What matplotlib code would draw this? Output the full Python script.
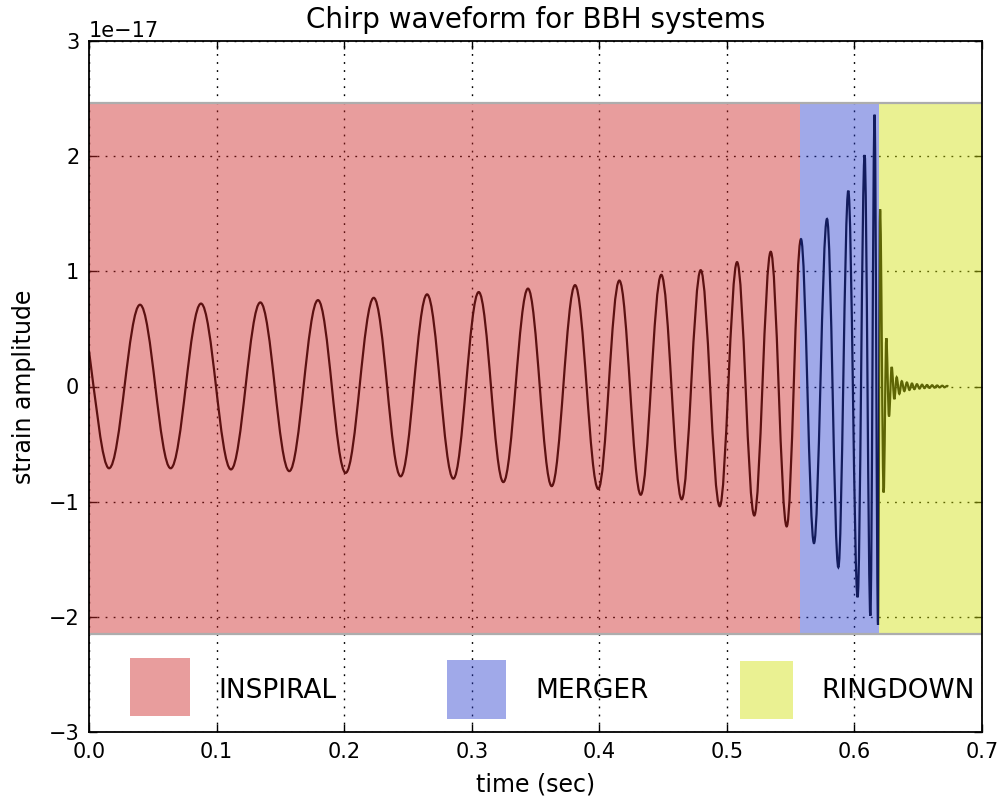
import matplotlib
matplotlib.use("Agg")
import matplotlib.pyplot as plt
from matplotlib.path import Path
from matplotlib.patches import PathPatch, Rectangle

plt.rcParams["font.family"] = ["DejaVu Sans"]

# Turning points of the strain waveform (time in s, strain in units of 1e-17)
wave_t = [0.0000, 0.0157, 0.0400, 0.0640, 0.0878, 0.1113, 0.1343, 0.1570,
          0.1795, 0.2012, 0.2232, 0.2443, 0.2650, 0.2856, 0.3055, 0.3248,
          0.3441, 0.3627, 0.3810, 0.3992, 0.4157, 0.4325, 0.4486, 0.4646,
          0.4795, 0.4944, 0.5080, 0.5215, 0.5344, 0.5469,
          0.5581, 0.5683, 0.5785, 0.5874, 0.5952, 0.6025, 0.6080, 0.6125,
          0.6158, 0.6185,
          0.6201, 0.6229, 0.6250, 0.6271, 0.6292, 0.6313, 0.6331, 0.6352,
          0.6371, 0.6391, 0.6411, 0.6431, 0.6451, 0.6470, 0.6490, 0.6510,
          0.6530, 0.6549, 0.6569, 0.6589, 0.6609, 0.6628, 0.6648, 0.6668,
          0.6688, 0.6707, 0.6727, 0.6736]
wave_h = [0.31, -0.71, 0.71, -0.71, 0.72, -0.72, 0.73, -0.735,
          0.75, -0.75, 0.77, -0.78, 0.80, -0.80, 0.82, -0.83,
          0.85, -0.865, 0.88, -0.89, 0.92, -0.94, 0.97, -0.98,
          1.01, -1.04, 1.08, -1.12, 1.17, -1.215,
          1.28, -1.36, 1.455, -1.57, 1.70, -1.83, 2.01, -1.99,
          2.36, -2.07,
          1.54, -0.92, 0.42, -0.26, 0.17, -0.11, 0.08, -0.064,
          0.046, -0.04, 0.035, -0.03, 0.026, -0.023, 0.02, -0.018,
          0.016, -0.014, 0.013, -0.012, 0.011, -0.01, 0.009, -0.008,
          0.007, -0.006, 0.005, 0.0]
start_slope = -82.0   # strain slope at t = 0 (1e-17 per s)
scale = 1e-17

# Phase boundaries (s) and the strain band they shade
phase_names = ["INSPIRAL", "MERGER", "RINGDOWN"]
phase_edges = [0.0, 0.5573, 0.6189, 0.7]
phase_colors = ["#ce2727", "#2c40d0", "#d2e20d"]
band_lo, band_hi = -2.15, 2.46

# Legend swatches: (left, bottom, width, height) in data units, label x
swatch_boxes = [(0.0321, -2.865, 0.0471, 0.504),
                (0.2806, -2.891, 0.0463, 0.513),
                (0.5103, -2.891, 0.0416, 0.504)]
label_x = [0.1011, 0.3496, 0.5738]
label_y = -2.64

x_ticks = [0.0, 0.1, 0.2, 0.3, 0.4, 0.5, 0.6, 0.7]
y_ticks = [-3, -2, -1, 0, 1, 2, 3]

fig = plt.figure(figsize=(10.02, 8.01), dpi=100)
ax = fig.add_axes([89 / 1002, 1 - 732 / 801, 893 / 1002, 691 / 801])

# Smooth waveform: cubic segments between successive turning points
K = 0.3634
verts = [(wave_t[0], wave_h[0] * scale)]
codes = [Path.MOVETO]
for i in range(1, len(wave_t)):
    t0, h0 = wave_t[i - 1], wave_h[i - 1] * scale
    t1, h1 = wave_t[i], wave_h[i] * scale
    d = t1 - t0
    if i == 1:
        c1 = (t0 + d / 3, h0 + start_slope * scale * d / 3)
        c2 = (t1 - d / 3, h1)
    else:
        c1 = (t0 + K * d, h0)
        c2 = (t1 - K * d, h1)
    verts += [c1, c2, (t1, h1)]
    codes += [Path.CURVE4] * 3
ax.add_patch(PathPatch(Path(verts, codes), facecolor="none",
                       edgecolor="black", lw=1.6, zorder=1))

# Shaded phases drawn over the curve
for x0, x1, c in zip(phase_edges[:-1], phase_edges[1:], phase_colors):
    ax.add_patch(Rectangle((x0, band_lo * scale), x1 - x0,
                           (band_hi - band_lo) * scale, facecolor=c,
                           edgecolor="none", alpha=0.45, zorder=2))
ax.hlines([band_lo * scale, band_hi * scale], phase_edges[0], phase_edges[-1],
          colors="0.68", lw=1.6, zorder=2.2)

# Legend swatches and labels
for (x, y, w, hgt), c, name, lx in zip(swatch_boxes, phase_colors,
                                       phase_names, label_x):
    ax.add_patch(Rectangle((x, y * scale), w, hgt * scale, facecolor=c,
                           edgecolor="none", alpha=0.45, zorder=3))
    ax.text(lx, label_y * scale, name, fontsize=19, ha="left",
            va="center", zorder=4)

ax.set_xlim(0, 0.7)
ax.set_ylim(-3 * scale, 3 * scale)
ax.set_xticks(x_ticks)
ax.set_yticks([v * scale for v in y_ticks])
ax.set_axisbelow(True)
ax.grid(True, color="black", linestyle=(0, (1.3, 4.5)), lw=1.0)
ax.tick_params(direction="in", top=True, right=True, length=6, width=1,
               labelsize=15, pad=7)
ax.yaxis.get_offset_text().set_fontsize(15)
for s in ax.spines.values():
    s.set_linewidth(1.3)

ax.set_title("Chirp waveform for BBH systems", fontsize=20, pad=9)
ax.set_xlabel("time (sec)", fontsize=17, labelpad=8)
ax.set_ylabel("strain amplitude", fontsize=17, labelpad=9)

fig.savefig("out.png", dpi=100)
